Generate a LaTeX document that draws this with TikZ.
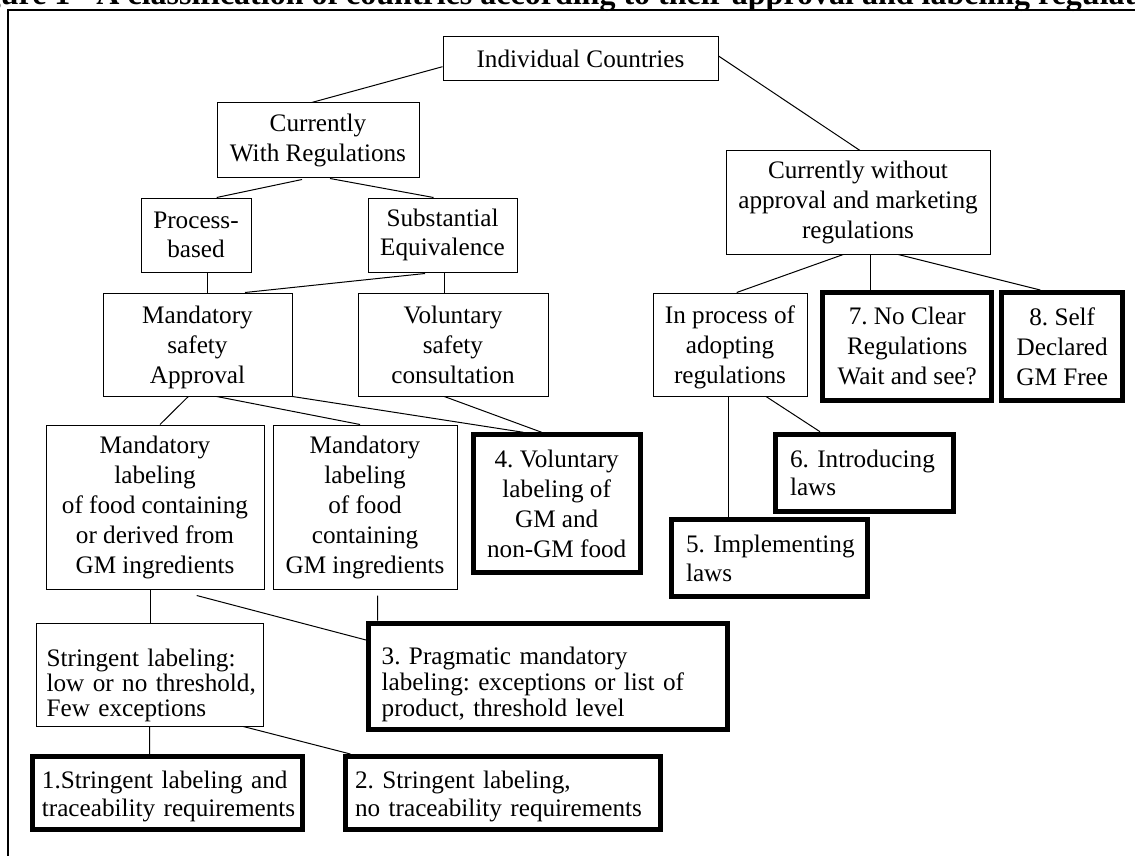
\documentclass[tikz,border=0pt]{standalone}
\usepackage{fontspec}
\setmainfont{Liberation Serif}
\usetikzlibrary{calc}
\begin{document}
\frenchspacing
\begin{tikzpicture}[x=0.5pt,y=-0.5pt,
  base/.style={draw, line width=0.5pt, inner sep=0pt, align=center, font=\fontsize{12.6}{15}\selectfont},
  thinbox/.style={base},
  heavybox/.style={base, line width=2.5pt},
  conn/.style={line width=0.5pt},
]
\useasboundingbox (0,0) rectangle (1135,856);
\clip (0,0) rectangle (1135,856);
% title (cut by the page edge) and frame
\node[anchor=base west, font=\fontsize{16}{19}\selectfont\bfseries, inner sep=0pt] (title) at (-44,5)
  {Figure 1\hspace{13pt}A classification of countries according to their approval and labeling regulations};
\draw[line width=1pt] (8,10) rectangle (1150,870);

% thin boxes
\node[thinbox, minimum width=137.5pt, minimum height=22pt] (ic) at (580.5,59) {Individual Countries};
\node[thinbox, minimum width=101pt, minimum height=37pt] (cwr) at (318,140) {Currently\\With Regulations};
\node[thinbox, minimum width=55pt, minimum height=37pt, font=\fontsize{12.6}{14.2}\selectfont] (pb) at (196,235) {Process-\\based};
\node[thinbox, minimum width=74.5pt, minimum height=37pt, font=\fontsize{12.6}{14.2}\selectfont] (se) at (442.5,235) {Substantial\\Equivalence};
\node[thinbox, minimum width=94.5pt, minimum height=51.5pt, text depth=0pt] (msa) at (197.5,344.5) {Mandatory\\safety\\Approval};
\node[thinbox, minimum width=95pt, minimum height=51.5pt] (vsc) at (453,344.5) {Voluntary\\safety\\consultation};
\node[thinbox, minimum width=132pt, minimum height=51.5pt] (cwo) at (858,202.5) {Currently without\\approval and marketing\\regulations};
\node[thinbox, minimum width=77pt, minimum height=51.5pt, text depth=0pt] (ipar) at (730,344.5) {In process of\\adopting\\regulations};
\node[thinbox, minimum width=109pt, minimum height=82pt] (mla) at (155,507) {Mandatory\\labeling\\of food containing\\or derived from\\GM ingredients};
\node[thinbox, minimum width=92pt, minimum height=82pt] (mlb) at (365,507) {Mandatory\\labeling\\of food\\containing\\GM ingredients};
\node[thinbox, align=left, inner xsep=5pt, text width=103.4pt, minimum height=51.5pt, font=\fontsize{12.6}{12.5}\selectfont] (sl) at (150,674.5)
  {\rule{0pt}{20pt}\mbox{Stringent labeling:}\\\mbox{low or no threshold,}\\\mbox{Few exceptions}};

% heavy boxes (final categories)
\node[heavybox, align=left, inner xsep=4.5pt, text width=125.8pt, minimum height=36.5pt, font=\fontsize{12.6}{14}\selectfont] (b1) at (167.7,793)
  {\rule{0pt}{12.5pt}\mbox{1.Stringent labeling and}\\\mbox{traceability requirements}};
\node[heavybox, align=left, inner xsep=4.8pt, text width=147.9pt, minimum height=36.5pt, font=\fontsize{12.6}{14}\selectfont] (b2) at (503,793)
  {\rule{0pt}{12.5pt}\mbox{2. Stringent labeling,}\\\mbox{no traceability requirements}};
\node[heavybox, align=left, inner xsep=6.6pt, text width=166.3pt, minimum height=53.3pt, font=\fontsize{12.6}{13}\selectfont] (b3) at (548,676.5)
  {\rule{0pt}{17pt}\mbox{3. Pragmatic mandatory}\\\mbox{labeling: exceptions or list of}\\\mbox{product, threshold level}};
\node[heavybox, minimum width=83.5pt, minimum height=68.9pt] (b4) at (556.7,503.7) {4. Voluntary\\labeling of\\GM and\\non-GM food};
\node[heavybox, align=left, inner xsep=7.25pt, text width=83.5pt, minimum height=38.5pt, font=\fontsize{12.6}{14.2}\selectfont] (b5) at (769.5,558.3)
  {\mbox{5. Implementing}\\\mbox{laws}};
\node[heavybox, align=left, inner xsep=7.1pt, text width=74.7pt, minimum height=38.8pt, font=\fontsize{12.6}{14.2}\selectfont] (b6) at (864.7,473)
  {\mbox{6. Introducing}\\\mbox{laws}};
\node[heavybox, minimum width=84.7pt, minimum height=53.9pt] (b7) at (907.2,346.4) {7. No Clear\\Regulations\\Wait and see?};
\node[heavybox, minimum width=60.4pt, minimum height=53.9pt] (b8) at (1062.2,346.4) {8. Self\\Declared\\GM Free};

% connectors
\draw[conn] ($(ic.west)+(0,7.7)$) -- ($(cwr.north)+(-6.3,0)$);
\draw[conn] ($(ic.east)+(0,-3)$) -- ($(cwo.north)+(2,0)$);
\draw[conn] ($(cwr.south)+(-16,2)$) -- ($(pb.north)+(20.7,0)$);
\draw[conn] ($(cwr.south)+(12,1)$) -- ($(se.north)+(-9,0)$);
\draw[conn] ($(pb.south)+(11,0)$) -- ($(msa.north)+(9.5,0)$);
\draw[conn] ($(se.south)+(-17.5,1)$) -- ($(msa.north)+(47.5,0)$);
\draw[conn] ($(se.south)+(1.5,0)$) -- ($(vsc.north)+(-9,0)$);
\draw[conn] ($(cwo.south)+(-14.7,0)$) -- ($(ipar.north)+(6.7,0)$);
\draw[conn] ($(cwo.south)+(12.7,0)$) -- ($(b7.north)+(-36.5,0)$);
\draw[conn] ($(cwo.south)+(40.3,0)$) -- ($(b8.north)+(-22,0)$);
\draw[conn] ($(msa.south)+(-9.2,0)$) -- ($(mla.north)+(5,0)$);
\draw[conn] ($(msa.south)+(19.2,0)$) -- ($(mlb.north)+(-5,0)$);
\draw[conn] (msa.south east) -- ($(b4.north)+(-33.4,0)$);
\draw[conn] ($(vsc.south)+(-8.7,0)$) -- ($(b4.north)+(-15,0)$);
\draw[conn] ($(ipar.south)+(-1.7,0)$) -- ($(b5.north)+(-41.2,0)$);
\draw[conn] ($(ipar.south)+(36,0)$) -- ($(b6.north)+(-44.7,0)$);
\draw[conn] ($(mla.south)+(-5,0)$) -- (sl.north);
\draw[conn] ($(mla.south)+(41.7,6)$) -- ($(b3.west)+(0,-36.5)$);
\draw[conn] ($(mlb.south)+(12.7,6)$) -- ($(b3.north)+(-170.3,0)$);
\draw[conn] ($(sl.south)+(-0.4,0)$) -- ($(b1.north)+(-18.1,0)$);
\draw[conn] ($(sl.south)+(93.3,0)$) -- ($(b2.north)+(-152.6,0)$);
\end{tikzpicture}
\end{document}
